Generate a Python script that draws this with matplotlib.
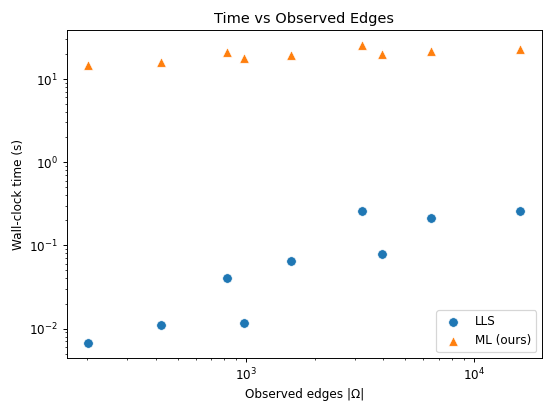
import matplotlib
matplotlib.use("Agg")
import matplotlib.pyplot as plt

edges = [202, 423, 818, 975, 1570, 3210, 3940, 6500, 16000]
lls_time = [0.0067, 0.0109, 0.0406, 0.0117, 0.0656, 0.258, 0.0787, 0.215, 0.26]
ml_time = [14.5, 15.9, 20.8, 17.8, 19.3, 25.3, 19.9, 21.4, 22.8]

title = "Time vs Observed Edges"
xlabel = "Observed edges |Ω|"
ylabel = "Wall-clock time (s)"
labels = ["LLS", "ML (ours)"]

fig = plt.figure(figsize=(6.4, 4.8), dpi=555 / 6.4)
ax = fig.add_axes([66.7 / 555, 1 - 358 / 416, (542 - 66.7) / 555, (358 - 30.7) / 416])

ax.scatter(edges, lls_time, s=62, marker="o", color="#1f77b4",
           edgecolors="white", linewidths=0.5, label=labels[0])
ax.scatter(edges, ml_time, s=62, marker="^", color="#ff7f0e",
           edgecolors="white", linewidths=0.5, label=labels[1])

ax.set_xscale("log")
ax.set_yscale("log")
ax.set_title(title)
ax.set_xlabel(xlabel)
ax.set_ylabel(ylabel)
ax.legend(loc="lower right")

fig.savefig("out.png", dpi=555 / 6.4)
